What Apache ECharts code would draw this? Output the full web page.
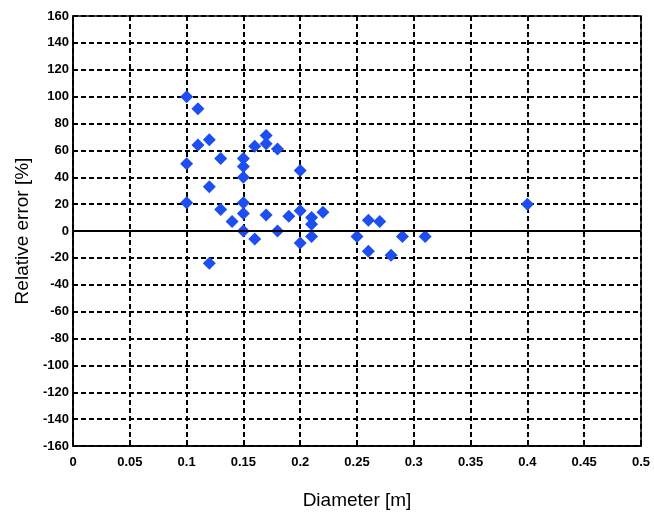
<!DOCTYPE html>
<html>
<head>
<meta charset="utf-8">
<script src="https://cdn.jsdelivr.net/npm/echarts@6/dist/echarts.min.js"></script>
<style>
  html, body { margin: 0; padding: 0; background: #fff; }
  #chart { width: 654px; height: 515px; }
</style>
</head>
<body>
<div id="chart"></div>
<script>
"use strict";

// Diameter [m] of each measured pipe
const diameters = [
  0.10, 0.11, 0.11, 0.12, 0.10, 0.13, 0.12, 0.10, 0.13, 0.14, 0.12,
  0.15, 0.15, 0.15, 0.15, 0.15, 0.15,
  0.16, 0.17, 0.17, 0.18, 0.16, 0.17, 0.18, 0.19,
  0.20, 0.20, 0.20, 0.21, 0.21, 0.21, 0.22,
  0.25, 0.26, 0.27, 0.26, 0.28, 0.29, 0.31, 0.40
];

// Relative error [%] for the same points
const relErrors = [
  100, 91, 64, 68, 50, 54, 33, 21, 16, 7, -24,
  54, 48, 40, 21, 13, 0,
  63, 71, 65, 61, -6, 12, 0, 11,
  45, 15, -9, 10, 5, -4, 14,
  -4, 8, 7, -15, -18, -4, -4, 20
];

const xTicks = [0, 0.05, 0.1, 0.15, 0.2, 0.25, 0.3, 0.35, 0.4, 0.45, 0.5];
const yTicks = [-160, -140, -120, -100, -80, -60, -40, -20, 0, 20, 40, 60, 80, 100, 120, 140, 160];

const points = diameters.map((d, i) => [d, relErrors[i]]);

const tickFont = {
  color: "#000",
  fontFamily: "Liberation Sans Narrow, Liberation Sans, Arial",
  fontSize: 13,
  fontWeight: "bold",
};

const gridLines = {
  show: true,
  lineStyle: { color: "#000", type: [5, 3], width: 2 },
};

const chart = echarts.init(document.getElementById("chart"));

chart.setOption({
  animation: false,
  grid: {
    left: 73,
    right: 13,
    top: 16,
    bottom: 69,
    show: true,
    borderColor: "#000",
    borderWidth: 1.5,
  },
  xAxis: {
    type: "value",
    min: xTicks[0],
    max: xTicks[xTicks.length - 1],
    interval: 0.05,
    name: "Diameter [m]",
    nameLocation: "middle",
    nameGap: 45,
    nameTextStyle: { color: "#000", fontSize: 19, fontFamily: "Liberation Sans, Arial" },
    axisLine: { show: true, onZero: false, lineStyle: { color: "#000", width: 1.5 } },
    axisTick: { show: true, inside: true, length: 4, lineStyle: { color: "#000" } },
    axisLabel: Object.assign({ margin: 10 }, tickFont),
    splitLine: gridLines,
  },
  yAxis: {
    type: "value",
    min: yTicks[0],
    max: yTicks[yTicks.length - 1],
    interval: 20,
    name: "Relative error [%]",
    nameLocation: "middle",
    nameGap: 39,
    nameTextStyle: { color: "#000", fontSize: 19, fontFamily: "Liberation Sans, Arial" },
    axisLine: { show: true, onZero: false, lineStyle: { color: "#000", width: 1.5 } },
    axisTick: { show: true, inside: true, length: 4, lineStyle: { color: "#000" } },
    axisLabel: Object.assign({ margin: 4 }, tickFont),
    splitLine: gridLines,
  },
  series: [
    {
      type: "scatter",
      data: points,
      symbol: "diamond",
      symbolSize: 13,
      itemStyle: { color: "#1d4ff0", opacity: 1 },
      markLine: {
        silent: true,
        symbol: "none",
        label: { show: false },
        lineStyle: { color: "#000", type: "solid", width: 2 },
        data: [{ yAxis: 0 }],
      },
    },
  ],
});
</script>
</body>
</html>
